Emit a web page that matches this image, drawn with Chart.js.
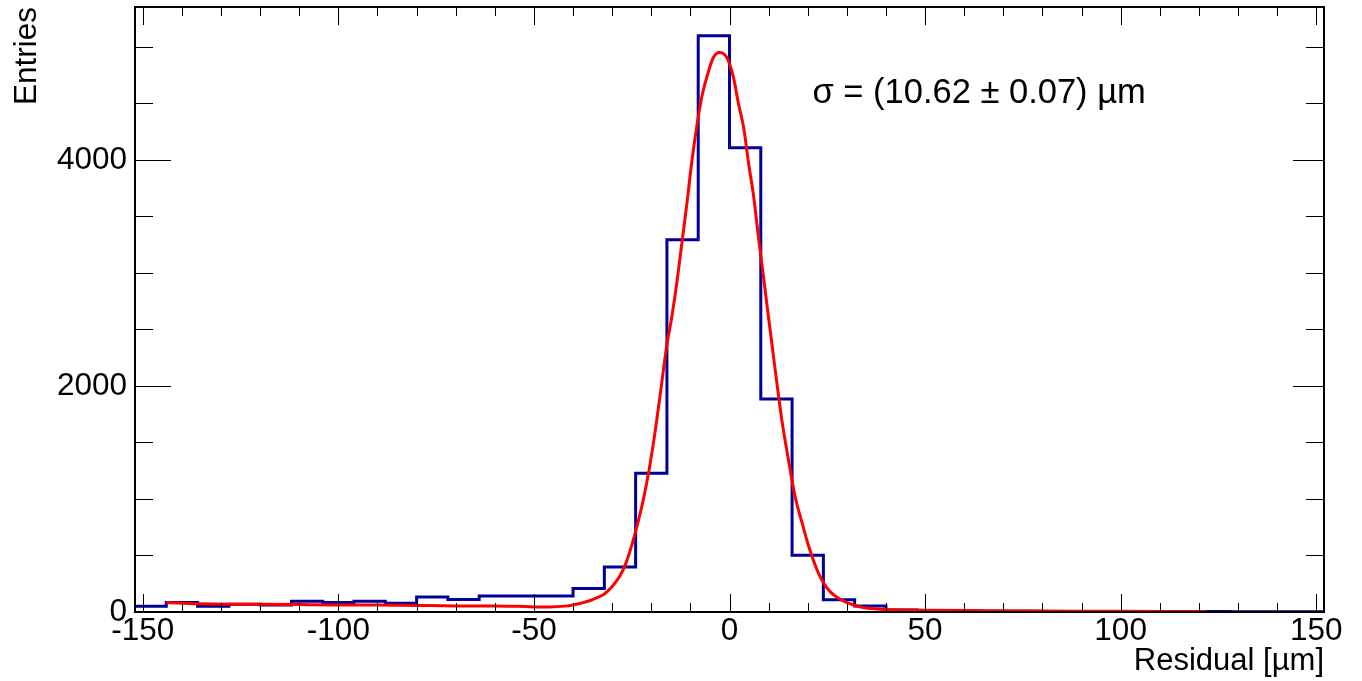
<!DOCTYPE html>
<html>
<head>
<meta charset="utf-8">
<script src="https://cdn.jsdelivr.net/npm/chart.js@4.4.1/dist/chart.umd.min.js"></script>
<style>
  html, body { margin: 0; padding: 0; background: #fff; }
  canvas { display: block; }
</style>
</head>
<body>
<canvas id="residuals" width="1362" height="681"></canvas>
<script>
// histogram: low edge of each 8 um bin, and entries per bin
const binEdges = [-152, -144, -136, -128, -120, -112, -104, -96, -88, -80,
                  -72, -64, -56, -48, -40, -32, -24, -16, -8, 0,
                  8, 16, 24, 32, 40, 48, 56, 64, 72, 80,
                  88, 96, 104, 112, 120, 128, 136, 144];
const binCounts = [50, 83, 50, 68, 62, 95, 83, 95, 77, 133,
                   110, 141, 141, 141, 207, 398, 1227, 3292, 5097, 4106,
                   1885, 502, 108, 52, 17, 10, 9, 7, 6, 5,
                   5, 4, 4, 3, 4, 3, 3, 3];
const histMax = 152;

// fit curve
const fitX = [-144, -136, -128, -120, -110, -100, -90, -80, -70, -60,
              -54, -50, -46, -42, -40, -38, -36, -34, -32, -30,
              -28, -26.5, -25, -23.5, -22, -20.5, -19, -17.8, -16.1, -14.8,
              -13.5, -12.2, -10.9, -9.6, -8.4, -7.1, -5.8, -4.1, -2.6, -0.7,
              1.0, 2.3, 3.6, 4.9, 6.2, 7.4, 8.7, 10.0, 11.7, 13.4,
              15.1, 16.8, 18.6, 20.3, 22.8, 25.4, 28.8, 31, 33, 35,
              40, 50, 65, 80, 95, 110, 122];
const fitY = [83, 72, 68, 68, 66, 62, 62, 58, 54, 53,
              50, 45, 45, 52, 62, 78, 97, 125, 160, 225,
              320, 430, 590, 780, 1000, 1270, 1600, 1901, 2343, 2600,
              2904, 3257, 3611, 3994, 4288, 4554, 4731, 4907, 4950, 4907,
              4731, 4495, 4288, 3965, 3670, 3316, 2962, 2600, 2137, 1695,
              1341, 1017, 782, 575, 340, 192, 103, 72, 48, 35,
              22, 16, 12, 9, 7, 5, 4];

const xTickLabels = [-150, -100, -50, 0, 50, 100, 150];
const yTickLabels = [0, 2000, 4000];
const fitLabel = 'σ = (10.62 ± 0.07) µm';

const FONT = '"Liberation Sans", Arial, Helvetica, sans-serif';

const histPoints = binEdges.map((e, i) => ({x: e, y: binCounts[i]}));
histPoints.push({x: histMax, y: binCounts[binCounts.length - 1]});
const fitPoints = fitX.map((v, i) => ({x: v, y: fitY[i]}));

// ROOT style frame: ticks inside, on all four sides
const frameTicks = {
  id: 'frameTicks',
  afterDatasetsDraw(chart) {
    const {ctx, chartArea: a, scales: {x, y}} = chart;
    ctx.save();
    ctx.strokeStyle = '#000';
    ctx.lineWidth = 1;
    ctx.beginPath();
    for (let v = -150; v <= 150; v += 10) {
      const px = Math.round(x.getPixelForValue(v)) + 0.5;
      const len = v % 50 === 0 ? 18 : 9;
      ctx.moveTo(px, a.bottom); ctx.lineTo(px, a.bottom - len);
      ctx.moveTo(px, a.top); ctx.lineTo(px, a.top + len);
    }
    for (let v = 0; v <= 5000; v += 500) {
      const py = Math.round(y.getPixelForValue(v)) + 0.5;
      const major = v % 2000 === 0;
      ctx.moveTo(a.left, py); ctx.lineTo(a.left + (major ? 36 : 18), py);
      ctx.moveTo(a.right, py); ctx.lineTo(a.right - (major ? 31 : 18), py);
    }
    ctx.stroke();
    ctx.lineWidth = 2;
    ctx.strokeRect(a.left, a.top, a.right - a.left, a.bottom - a.top);

    ctx.fillStyle = '#000';
    ctx.font = '34.5px ' + FONT;
    ctx.textAlign = 'left';
    ctx.textBaseline = 'alphabetic';
    ctx.fillText(fitLabel, x.getPixelForValue(21.2), y.getPixelForValue(4500));
    ctx.restore();
  }
};

new Chart(document.getElementById('residuals'), {
  type: 'line',
  data: {
    datasets: [
      {
        label: 'Residuals',
        data: histPoints,
        stepped: 'before',
        borderColor: '#000099',
        borderWidth: 3,
        pointRadius: 0,
        fill: false,
        order: 2
      },
      {
        label: 'Fit',
        data: fitPoints,
        borderColor: '#ff0000',
        borderWidth: 3,
        pointRadius: 0,
        fill: false,
        cubicInterpolationMode: 'monotone',
        order: 1
      }
    ]
  },
  options: {
    responsive: false,
    animation: false,
    devicePixelRatio: 1,
    layout: { padding: { left: 0, right: 38, top: 7, bottom: 0 } },
    plugins: {
      legend: { display: false },
      tooltip: { enabled: false }
    },
    scales: {
      x: {
        type: 'linear',
        min: -152,
        max: 152,
        grid: { display: false, drawTicks: false },
        border: { display: false },
        afterBuildTicks: s => { s.ticks = xTickLabels.map(v => ({value: v})); },
        afterFit: s => { s.height = 69; s.paddingLeft = 0; s.paddingRight = 0; },
        ticks: {
          autoSkip: false,
          maxRotation: 0,
          padding: 0,
          color: '#000',
          font: { family: FONT, size: 31.5 },
          callback: v => String(v)
        },
        title: {
          display: true,
          text: 'Residual [µm]',
          align: 'end',
          color: '#000',
          font: { family: FONT, size: 31 },
          padding: { top: 0, bottom: 1 }
        }
      },
      y: {
        type: 'linear',
        min: 0,
        max: 5352,
        grid: { display: false, drawTicks: false },
        border: { display: false },
        afterBuildTicks: s => { s.ticks = yTickLabels.map(v => ({value: v})); },
        afterFit: s => { s.width = 135; s.paddingTop = 0; s.paddingBottom = 0; },
        ticks: {
          padding: 8,
          color: '#000',
          font: { family: FONT, size: 31.5 },
          callback: v => String(v)
        },
        title: {
          display: true,
          text: 'Entries',
          align: 'end',
          color: '#000',
          font: { family: FONT, size: 31.5 },
          padding: { top: 8, bottom: 0 }
        }
      }
    }
  },
  plugins: [frameTicks]
});
</script>
</body>
</html>
